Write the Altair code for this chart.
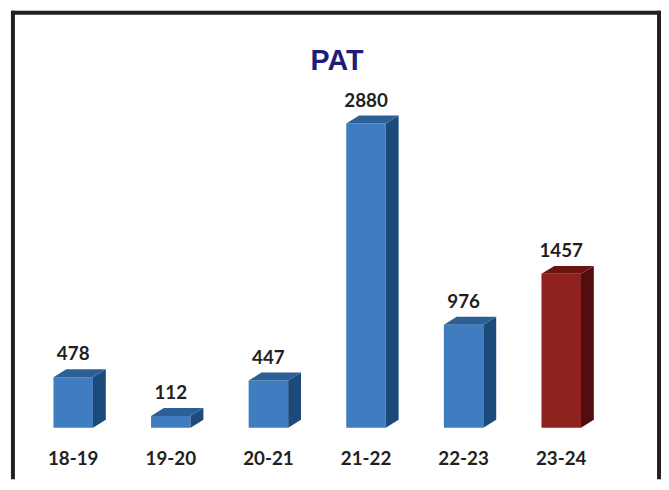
import altair as alt
import pandas as pd

# ---- data ----
categories = ["18-19", "19-20", "20-21", "21-22", "22-23", "23-24"]
values = [478, 112, 447, 2880, 976, 1457]
highlight = [False, False, False, False, False, True]
title_text = "PAT"

# ---- styling ----
FRONT = {"blue": "#3f7dc0", "red": "#8f211e"}
SIDE = {"blue": "#1b4a7b", "red": "#520e0e"}
TOP = {"blue": "#2c5f95", "red": "#6b1412"}
TEXT = "#231f20"
TITLE_COLOR = "#201d7a"
FONT = "Lato"

HALF_W = 0.2024   # half front width in x units
DEPTH_X = 0.1316  # 3-D depth in x units
DEPTH_Y = 75.0    # 3-D depth in y units

front_rows, side_rows, top_rows = [], [], []
for i, (c, v, h) in enumerate(zip(categories, values, highlight)):
    key = "red" if h else "blue"
    xc = i + 0.5
    xl, xr = xc - HALF_W, xc + HALF_W
    front_rows.append(dict(cat=c, value=v, xc=xc, x0=xl, x1=xr, base=0, color=FRONT[key]))
    side_rows += [
        dict(bar=c, px=xr, ylo=0, yhi=v, col=SIDE[key]),
        dict(bar=c, px=xr + DEPTH_X, ylo=DEPTH_Y, yhi=v + DEPTH_Y, col=SIDE[key]),
    ]
    top_rows += [
        dict(bar=c, px=xl, ylo=v, yhi=v, col=TOP[key]),
        dict(bar=c, px=xl + DEPTH_X, ylo=v, yhi=v + DEPTH_Y, col=TOP[key]),
        dict(bar=c, px=xr, ylo=v, yhi=v + DEPTH_Y, col=TOP[key]),
        dict(bar=c, px=xr + DEPTH_X, ylo=v + DEPTH_Y, yhi=v + DEPTH_Y, col=TOP[key]),
    ]

front_df = pd.DataFrame(front_rows)
side_df = pd.DataFrame(side_rows)
top_df = pd.DataFrame(top_rows)

xs = alt.Scale(domain=[0, 6], range=[16.6, 609.4], nice=False, zero=False)
ys = alt.Scale(domain=[0, 2880], range=[422, 114], nice=False, zero=False)

front = alt.Chart(front_df).mark_rect().encode(
    x=alt.X("x0:Q", scale=xs, axis=None),
    x2="x1:Q",
    y=alt.Y("base:Q", scale=ys, axis=None),
    y2="value:Q",
    color=alt.Color("color:N", scale=None),
)


def face(df):
    return alt.Chart(df).mark_area(orient="vertical").encode(
        x=alt.X("px:Q", scale=xs, axis=None),
        y=alt.Y("ylo:Q", scale=ys, axis=None, stack=None),
        y2="yhi:Q",
        detail="bar:N",
        color=alt.Color("col:N", scale=None),
    )


side = face(side_df)
top = face(top_df)

value_labels = alt.Chart(front_df).mark_text(
    font=FONT, fontSize=19, fontWeight="bold", color=TEXT,
    baseline="alphabetic", align="center", dy=-17,
).encode(
    x=alt.X("xc:Q", scale=xs, axis=None),
    y=alt.Y("value:Q", scale=ys, axis=None),
    text="value:Q",
)

cat_labels = alt.Chart(front_df).mark_text(
    font=FONT, fontSize=19, fontWeight="bold", color=TEXT,
    baseline="alphabetic", align="center", dy=38,
).encode(
    x=alt.X("xc:Q", scale=xs, axis=None),
    y=alt.Y("base:Q", scale=ys, axis=None),
    text="cat:N",
)

one = pd.DataFrame({"t": [title_text]})
title = alt.Chart(one).mark_text(
    font="Liberation Sans", fontSize=29, fontWeight="bold", color=TITLE_COLOR,
    baseline="alphabetic", align="center",
).encode(x=alt.value(333), y=alt.value(60), text="t:N")

border_color = "#231f20"
left_line = alt.Chart(one).mark_rule(color=border_color, strokeWidth=4).encode(
    x=alt.value(5), y=alt.value(0), y2=alt.value(474))
top_line = alt.Chart(one).mark_rule(color=border_color, strokeWidth=4).encode(
    x=alt.value(3), x2=alt.value(661), y=alt.value(2))
right_line = alt.Chart(one).mark_rule(color=border_color, strokeWidth=4).encode(
    x=alt.value(659), y=alt.value(0), y2=alt.value(474))

chart = alt.layer(
    left_line, top_line, right_line,
    front, side, top, value_labels, cat_labels, title,
).properties(
    width=661, height=474,
    autosize=alt.AutoSizeParams(type="none"),
    padding=0,
).configure_view(stroke=None)

chart.save("out.html", embed_options={"renderer": "svg", "actions": False})
